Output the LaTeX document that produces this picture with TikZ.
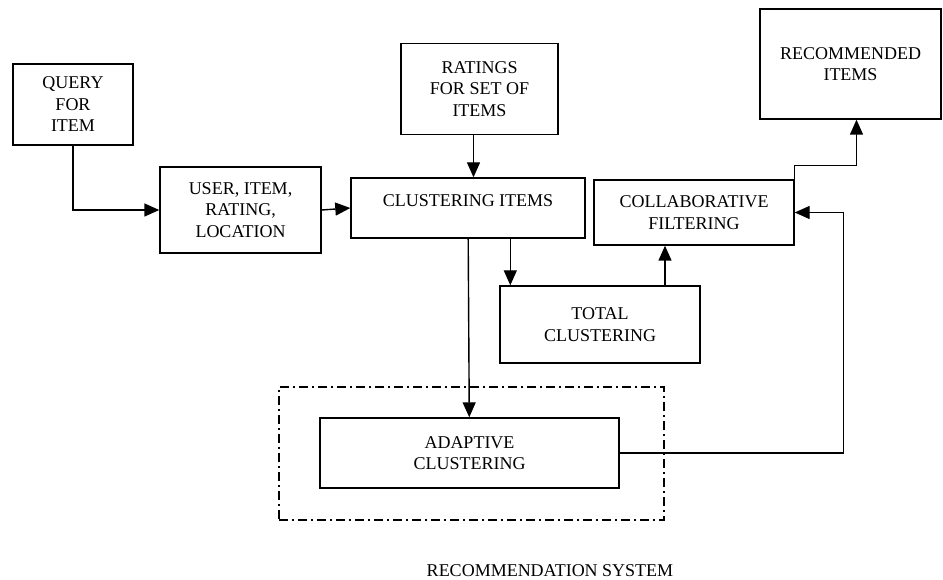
\documentclass[tikz,border=0pt]{standalone}
\usepackage{fontspec}
\setmainfont{Liberation Serif}
\usepackage{tikz}
\usetikzlibrary{positioning,arrows.meta,calc}

\begin{document}
\begin{tikzpicture}[
  x=1pt,y=-1pt,
  font=\fontsize{18}{21.5}\selectfont,
  box/.style={draw,line width=1.4pt,align=center,inner sep=2pt},
  flow/.style={-{Triangle[length=15pt,width=13pt]},line width=1.4pt},
  sysbox/.style={draw,line width=1.4pt,dash pattern=on 9pt off 4pt on 2pt off 4pt},
]
\useasboundingbox (0,0) rectangle (943,580);
\node[box,minimum width=120,minimum height=81] (query)  at (73,104.5)  {QUERY\\FOR\\ITEM};
\node[box,minimum width=161,minimum height=86] (user)   at (240.5,210) {USER, ITEM,\\RATING,\\LOCATION};
\node[box,minimum width=157,minimum height=91] (rating) at (479.5,89)  {RATINGS\\FOR SET OF\\ITEMS};
\node[box,minimum width=234,minimum height=60] (clus)   at (468,208)   {};
\node (clustxt) at (468,201) {CLUSTERING ITEMS};   % text sits high in its box
\node[box,minimum width=200,minimum height=65] (collab) at (694,212.5) {COLLABORATIVE\\FILTERING};
\node[box,minimum width=181,minimum height=110] (recom) at (850.5,64)  {RECOMMENDED\\ITEMS};
\node[box,minimum width=200,minimum height=77] (total)  at (600,324.5) {TOTAL\\CLUSTERING};
\node[sysbox,minimum width=385,minimum height=133] (sys) at (471.5,453.5) {};
\node[box,minimum width=299,minimum height=70] (adapt)  at (469.5,453) {ADAPTIVE\\CLUSTERING};
\node (systxt) at (550,571) {RECOMMENDATION SYSTEM};

\draw[flow] (query) |- (user);
\draw[flow] (user.east) -- (clus.west);
\draw[flow] ([xshift=-6pt]rating.south) -- ([xshift=-6pt]rating.south |- clus.north);
\draw[flow] (clus) -- (adapt);
\draw[flow] ([xshift=11pt]total.north west |- clus.south) -- ([xshift=11pt]total.north west);
\draw[flow] ([xshift=65pt]total.north) -- ([xshift=65pt]total.north |- collab.south);
\draw[flow] (collab.north east) -- ++(0,-14) -| ([xshift=6pt]recom.south);
\draw[flow] (adapt.east) -- ++(224,0) |- (collab.east); % feedback
\end{tikzpicture}
\end{document}
